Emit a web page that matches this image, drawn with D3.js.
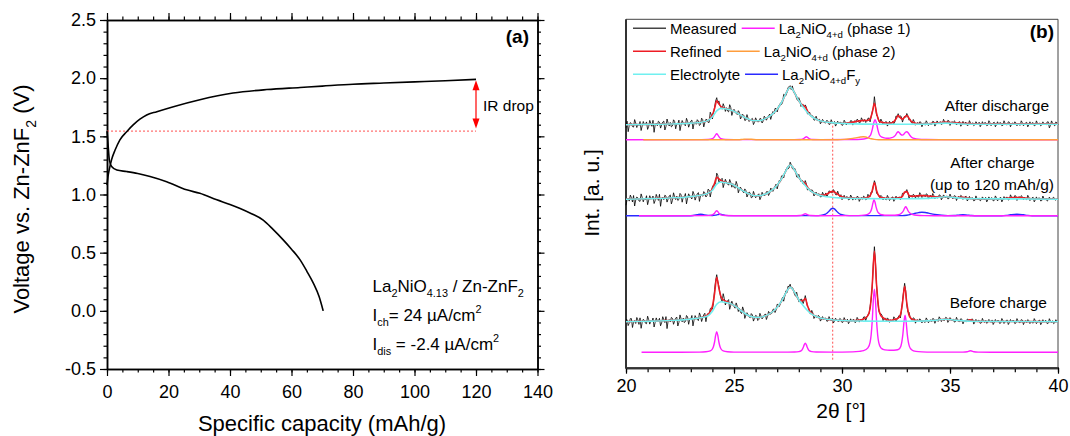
<!DOCTYPE html>
<html>
<head>
<meta charset="utf-8">
<script src="https://cdn.jsdelivr.net/npm/d3@7"></script>
<style>
  body { margin: 0; background: #fff; }
  svg { display: block; }
  text { font-family: 'Liberation Sans', Arial, sans-serif; fill: #000; }
</style>
</head>
<body>
<svg id="chart" width="1070" height="436"></svg>
<script>
// ---------- (a) galvanostatic charge / discharge ----------
const chargeCapacity = [0, 0.3, 0.7, 1.5, 2.6, 4.2, 6.4, 8.6, 10.7, 12.9, 16.2, 21.6, 30.2, 41, 52, 62.8, 70, 80, 90, 100, 110, 120];
const chargeVoltage  = [1.08, 1.15, 1.21, 1.30, 1.38, 1.47, 1.54, 1.60, 1.647, 1.684, 1.712, 1.755, 1.815, 1.872, 1.902, 1.92, 1.932, 1.948, 1.958, 1.968, 1.978, 1.99];
const dischargeCapacity = [0, 0.15, 0.4, 0.75, 1.5, 3.2, 6.4, 10, 14, 19.4, 25.9, 30.2, 35.7, 40, 43.3, 47, 50.8, 54, 57.3, 60, 62.8, 65, 67.1, 69, 70.3];
const dischargeVoltage  = [1.545, 1.5, 1.41, 1.30, 1.24, 1.21, 1.197, 1.18, 1.155, 1.11, 1.04, 1.01, 0.954, 0.915, 0.88, 0.835, 0.78, 0.70, 0.61, 0.53, 0.438, 0.34, 0.238, 0.12, 0.0];
const irDropCapacity = 120;
const irDropLevel = 1.545;
const capacityTicks = [0, 20, 40, 60, 80, 100, 120, 140];
const voltageTicks = [-0.5, 0, 0.5, 1, 1.5, 2, 2.5];

// ---------- (b) XRD patterns, 20-40 deg ----------
// measured counts: main samples every 0.1 deg from 20.0, plus the in-between samples at +0.05 deg
const thetaStart = 20, thetaStep = 0.1;
const thetaTicks = [20, 25, 30, 35, 40];

const measuredDischarge = [
  -3,-7,2.1,-1.9,5.1,-2.8,-0.8,-5.8,3.2,0.3,
  -4.7,4.3,-1.6,-7.6,1.5,3.5,-3.4,2.6,-5.3,5.7,
  -1.3,-2.2,4.9,-4.1,1,-5.9,4.2,0.3,6.4,-2.5,
  3.6,-4.3,2.9,5,-0.8,6.5,-2.2,5.4,2.3,12.5,
  5.8,17.2,27,23.8,17.1,21,13.3,13.7,20,9.3,
  15.4,11.3,14,5.7,10.4,4.2,10.1,3.2,5.5,0.1,
  6.9,2.9,6.2,1.7,8.5,4.5,8.8,5.3,13.1,16.3,
  12.8,19.7,20.2,30.4,29,37.2,39,38.8,31,25.8,
  27,18.2,20.2,19.8,10.8,12.5,9.4,4.7,8.5,3.6,
  0.9,5.3,1.9,4.5,0.2,5,0.8,-1.4,3.5,2.4,
  -0.7,4.5,-0.3,1,4.1,-0.4,4.1,5.5,1.8,6.9,
  3.3,2.2,6.4,2.8,13.1,28,9.5,3.6,5.6,0.2,
  2.7,-1.4,3.4,1.7,1,8.8,11,9,2.6,8.5,
  11.2,4.5,2.5,5.2,-0.5,2.2,2.95,-2.1,1.9,3.95,
  -1,0.2,3.4,-1.4,3.8,1,0.2,5.4,1.6,4.4,
  -0.75,3.1,3.9,-0.25,2.6,-1.55,3.3,2.2,-0.9,4.05,
  0,-1,3,0,-2,3,2,-1,4,-1,
  1.95,-2.05,2.95,1.95,-1.05,3.95,-0.05,2.95,-2.05,1.95,
  2.9,-1.1,-0.1,3.9,-1.1,1.9,-2.1,2.9,1.9,-1.1,
  3.85,-0.15,-1.15,2.85,0.85,2.8,-3.2,3.8,-0.2,2.8,-0.2
];
const measuredDischargeMid = [
  3.52,-0.95,1.08,-2.39,1.64,0.67,3.2,-1.27,0.26,2.79,
  -1.68,1.36,4.4,-0.06,-1.02,2.52,-0.44,3.6,-1.86,1.68,
  2.24,-1.18,3.4,0.98,4.56,-0.35,1.75,-1.15,3.45,0.55,
  4.65,1.28,0.43,3.6,0.35,5.15,2.1,4.85,2.3,9.9,
  11.9,23.8,21.6,19.5,15.5,18.1,17,12.85,17.15,12.85,
  13.35,10.15,12.35,8.05,9.3,4.65,6.65,4.35,6.3,2.5,
  4.4,3.05,5.95,3.6,7,6.65,10.55,9.2,10.7,16.05,
  16.75,21.45,22.3,29.7,32.1,37.85,35.15,34.4,30.9,24.4,
  24.1,19.7,17.5,17.5,11,8.9,8.5,4.6,5.5,5.75,
  2.6,3.6,1.7,3.35,0.6,2.4,3.2,0.55,0.95,2.35,
  -0.1,2.6,2.35,1.05,3.85,2.35,2.3,4.65,2.35,4.6,
  5.25,3.3,6.6,7.9,16.5,18.8,8,2,3.4,1.45,
  3.15,0.5,1.55,3.3,2.8,8,7.1,7.8,6,7.4,
  8.9,5.5,1.35,2.85,0.85,0.13,2.53,0.5,-0.5,2,
  1.6,0.3,3,0.7,2.4,3.1,0.8,3,1.5,3.83,
  1.68,1,2.83,1.18,3.03,0.38,0.75,2.15,-0.42,1.53,
  2,0,1.5,2.5,0,0.5,2,-0.5,2,0.5,
  2.45,-0.05,0.45,1.95,-0.55,1.45,-0.05,2.45,0.45,-0.05,
  1.9,1.4,-0.6,1.9,0.4,2.4,-0.1,0.4,1.9,-0.6,
  1.35,1.85,-0.15,0.85,-0.15,2.85,-0.7,1.3,-1.2,1.8
];
const refinedDischarge = [
  0,0.03,0.06,0.09,0.12,0.15,0.18,0.21,0.24,0.27,
  0.3,0.34,0.38,0.42,0.46,0.5,0.54,0.58,0.62,0.66,
  0.7,0.78,0.86,0.94,1.02,1.1,1.2,1.3,1.4,1.5,
  1.6,1.7,1.85,2,2.2,2.5,2.8,3.4,4.3,6.5,
  9.8,16.2,23.8,20.8,18.1,17,16.3,15.7,15,14.3,
  13.4,12.3,11,9.7,8.4,7.2,6.1,5.2,4.5,4.1,
  3.9,3.9,4.2,4.7,5.5,6.5,7.8,9.3,11.1,13.3,
  15.8,18.7,22.2,26.4,31,35.2,37.5,35.8,32,27.8,
  24,21.2,19.2,17.8,13.8,10.5,8.4,6.7,5.5,4.6,
  3.9,3.3,2.9,2.5,2.2,2,1.8,1.6,1.5,1.4,
  1.3,1.5,1.7,2,2.1,2.6,3.1,3.5,3.8,3.9,
  4.3,4.2,4.4,5.8,12.1,21.4,11.5,4.6,2.6,2.2,
  1.7,1.6,1.4,1.7,3,5.8,9.2,7,5.6,7.5,
  9.2,6.5,3.5,2.2,1.5,1.2,1.05,1,1,1,
  1,1.2,1.4,1.6,1.8,2,2.2,2.4,2.6,2.4,
  2.25,2.1,1.9,1.75,1.6,1.45,1.3,1.2,1.1,1.05,
  1,1,1,1,1,1,1,1,1,1,
  0.95,0.95,0.95,0.95,0.95,0.95,0.95,0.95,0.95,0.95,
  0.9,0.9,0.9,0.9,0.9,0.9,0.9,0.9,0.9,0.9,
  0.85,0.85,0.85,0.85,0.85,0.8,0.8,0.8,0.8,0.8,0.8
];

const measuredCharge = [
  -6,1,4.1,-2.8,-6.8,2.2,-1.7,5.3,-2.6,-0.5,
  -5.5,3.5,0.6,-4.3,4.8,-1.2,-7.1,2,4,-2.9,
  3.2,-4.7,6.4,-0.4,-1.3,5.8,-3,2.1,-4.7,5.4,
  1.6,7.8,-0.9,5.4,-2.2,5.2,7.6,2.2,10,2.3,
  12.3,13.8,26,16.4,19.5,11.6,19.9,15.2,19.7,12,
  12,17.8,6.4,12,7.6,10.3,2.2,7.2,1.4,7.8,
  1.4,4.3,-0.5,6.9,3.6,7.5,3.7,11.1,7.8,12.9,
  10.3,19,23.3,21.2,29.4,30.2,37,30.7,31.2,22.3,
  24.8,17.8,15.2,18.6,9.2,10.2,9.5,3.2,7.1,5.3,
  2.2,6.9,3.3,2.2,8.4,6.6,9.6,4.6,8,2.5,
  -0.5,3.9,2.4,-0.7,4.2,-0.9,0,2.9,-2.2,1.75,
  3.1,-0.6,4.9,2.5,6.8,18.5,5.8,4.4,3.8,-0.7,
  0,3.8,-1.3,1.7,-2.1,3,1.2,-0.4,5.9,6.2,
  9.6,0.9,3.95,4.9,1.15,2.4,6.55,1.6,4.5,5.4,
  0.15,3.95,5.7,0.45,1.35,4.35,-0.6,4.3,1.4,0.3,
  5.1,0.9,3.6,-1.3,2.8,3.9,-0.2,2.6,-1.8,2.8,
  1.4,-1.7,3.3,-0.7,-1.7,2.3,-0.7,-2.7,2.3,1.3,
  -1.7,3.3,-1.7,1.3,-2.7,2.6,1.8,-0.9,4.4,0.55,
  3.65,-1.3,2.65,3.55,-0.6,0.1,3.9,-1.4,1.45,-2.65,
  2.3,1.25,-1.8,3.2,-0.85,-1.9,2.1,0.05,2,-1,0
];
const measuredChargeMid = [
  -0.47,-1.92,1.63,3.68,-0.77,1.28,-2.17,1.88,0.93,3.48,
  -0.97,0.6,3.18,-1.25,1.83,4.88,0.45,-0.47,3.08,0.15,
  4.25,-1.15,2.48,3.13,-0.25,4.38,2.03,5.68,0.83,3,
  0.23,4.98,2.25,6.6,3.5,2.9,6.4,3.6,9.1,7.6,
  14.2,16.5,23.8,18.6,20.9,15.7,17,14,16.8,15.5,
  10.9,14.6,9.7,9.8,6.4,8.7,4.7,6.3,2.1,4.6,
  2.85,5.4,2.2,4.75,4.05,7.6,5.9,9.95,10.35,15.1,
  14.65,17.15,23.75,25.8,31.3,31.2,34.45,29.95,28.75,22.05,
  20.8,19,15.2,15.4,10.2,7.35,8.35,4.65,4.2,5.25,
  2.55,4.6,6.25,4.8,7.5,6.6,8.1,4.3,4.75,4.5,
  1.2,1.15,2.35,-0.25,2.15,1.55,-0.05,2.35,0.28,-0.1,
  2.25,0.15,3.2,7.2,13,15.4,4.8,1.5,2.55,1.65,
  -0.6,1.75,0.2,2.3,-0.05,1.1,2.4,0.75,5,7.6,
  6.8,2.8,1.9,4,3.8,2,4.6,3.05,2.45,4.8,
  2.55,1.3,3.55,2.9,1.35,3.85,1.35,2.85,3.35,0.7,
  2.5,0.75,3.15,1.25,0.85,2.85,1.2,2.9,0,0.1,
  1.35,-1.2,0.8,1.3,-0.7,0.8,1.8,-0.7,-0.2,1.3,
  -1.2,1.3,-0.2,1.8,-0.55,0.2,1.95,-0.25,1.98,0.6,
  3.18,1.18,0.6,2.48,1.75,-0.5,1.75,0.03,1.9,-0.67,
  -0.22,1.23,-1.3,0.68,1.13,-0.9,0.08,1.03,-0.5,0.5
];
const refinedCharge = [
  0,0.05,0.1,0.15,0.2,0.25,0.3,0.35,0.4,0.45,
  0.5,0.55,0.65,0.7,0.8,0.85,0.9,1,1.05,1.1,
  1.2,1.3,1.4,1.55,1.7,1.8,1.95,2.1,2.25,2.4,
  2.6,2.85,3.1,3.4,3.8,4.2,4.6,5.2,6,7.3,
  10.3,15.8,22,20.4,18.5,17.6,16.9,16.2,15.7,15,
  14,12.8,11.4,10,8.6,7.3,6.2,5.2,4.4,3.8,
  3.4,3.3,3.5,3.9,4.6,5.5,6.7,8.1,9.8,11.9,
  14.3,17,20.3,24.2,28.4,32.2,34.2,32.7,29.2,25.3,
  21.8,18.8,17.2,15.6,12.2,9.2,7.5,6.2,5.1,4.3,
  4.2,3.9,4.3,5.2,6.4,7.6,7.6,6.6,5,3.5,
  2.5,1.9,1.4,1.3,1.2,1.1,1,0.9,0.8,0.75,
  1.1,1.4,1.9,3.5,8.8,16.5,8.8,3.4,1.8,1.3,
  1,0.8,0.7,0.7,0.9,1,1.2,1.6,2.9,7.2,
  7.6,3.9,2.95,2.9,3.15,3.4,3.55,3.6,3.5,3.4,
  3.15,2.95,2.7,2.45,2.35,2.35,2.4,2.3,2.4,2.3,
  2.1,1.9,1.6,1.7,1.8,1.9,1.8,1.6,1.2,0.8,
  0.4,0.3,0.3,0.3,0.3,0.3,0.3,0.3,0.3,0.3,
  0.3,0.3,0.3,0.3,0.3,0.6,0.8,1.1,1.4,1.55,
  1.65,1.7,1.65,1.55,1.4,1.1,0.9,0.6,0.45,0.35,
  0.3,0.25,0.2,0.2,0.15,0.1,0.1,0.05,0,0,0
];

const measuredPristine = [
  2,-3.9,3.1,-5.8,1.2,4.2,-2.7,-6.6,2.4,-1.5,
  5.5,-2.4,-0.3,-5.3,3.8,0.8,-4.1,5,-0.9,-6.9,
  2.2,4.3,-2.6,3.5,-4.3,6.8,-0.1,-0.9,6.2,-2.6,
  2.6,-4.2,6.1,2.4,8.8,0.2,6.9,0,8.3,13,
  12.4,32,47,35.5,22.9,28,16.7,20.8,12.4,20.5,
  15.3,18.8,10.2,9.5,14.8,3.3,9,4.9,8.1,0.6,
  6.3,1.2,8.4,2.8,6.4,2.2,10.3,7.6,12.2,9.2,
  17.5,15.2,21.5,20.5,30.8,35.5,37.5,34,27.5,29.5,
  20,22.7,18.1,26.1,15.1,8.9,11.3,3.2,6.1,6.3,
  0.6,5.1,3.7,0.4,5.1,0.9,-1.3,3.5,0.4,3.3,
  -0.8,4.1,0,-2,2.9,2,-0.9,4.3,-0.4,0.9,
  4.7,1.1,7.2,15.2,34.9,75,35.9,11.1,8.1,1,
  3.5,3.8,-0.6,0.5,4.9,0.6,4.6,3.7,20.6,38.4,
  16.6,9.7,2.2,3.9,-1.5,2.1,2.9,-1.2,-0.2,3.8,
  -1.1,2,3.2,-1.6,2.6,4.9,0.1,1.3,4.4,-0.7,
  4.1,0.9,-0.4,4.4,0.2,3,-2.2,1.7,2.6,-0.2,
  2.6,-2.4,2.3,1.3,-1.7,3.3,-0.7,-1.7,2.3,-0.7,
  -2.8,2.2,1.2,-1.8,3.2,-1.8,1.2,-2.8,2.2,1.2,
  -1.9,3.1,-0.9,2.1,-2.9,1.1,2.1,-1.9,-0.9,3.1,
  -2,1,-3,2,1,-2,3,-1,-2,2,0
];
const measuredPristineMid = [
  2.03,-1.42,3.13,-0.32,-1.77,1.78,3.83,-0.62,1.43,-2.02,
  2.03,1.1,3.68,-0.75,0.83,3.38,-1.05,2.03,5.08,0.65,
  -0.25,3.35,0.48,4.63,-0.75,2.88,3.53,0.18,4.83,2.5,
  6.23,1.48,3.75,1.1,6,3.55,8.45,6.15,7,14,
  18.3,41.2,40.2,28.9,20.2,23.3,19.7,22.1,16.4,17.4,
  13.5,15.5,13.3,8.1,11.5,6.6,6.9,4,6.8,3.4,
  5.75,2.3,5.6,4.6,7.8,5.2,8.4,8.4,12.7,11.8,
  16.8,18.3,24.5,25.6,29.1,35,33.2,32.2,25.5,24.7,
  20.3,22.1,21.4,20.9,14.1,7.6,8.7,5.1,3.7,5.4,
  2.35,2.4,3.55,0.75,2.5,3.3,0.6,1.95,0.35,2.25,
  -0.35,1.55,2.5,-0.05,0.45,2.05,-0.3,2.45,2.2,1.3,
  4.9,4.5,7.5,22.6,57.9,59.8,22.5,8,6.5,2.7,
  1.1,2.6,1.95,0.2,3.2,2.6,6.3,10,29.9,30.9,
  9.5,5,1.5,3.2,0.8,0,1.85,1.3,-0.7,1.85,
  0.45,0.1,2.8,1,0.25,3,2.7,1.35,3.85,1.2,
  2.5,2.75,0,1.8,0.1,2.4,0.25,-0.35,2.2,1.4,
  2.6,-0.5,-0.12,1.33,-1.2,0.8,1.3,-0.72,0.75,1.75,
  -0.75,-0.27,1.2,-1.3,1.2,-0.3,1.7,-0.82,-0.35,1.15,
  -1.35,0.63,-0.9,1.6,-0.4,-0.9,1.1,0.6,-1.42,1.05,
  -0.45,1.55,-0.95,-0.47,1,-1.5,0.5,1,-1,0
];
const refinedPristine = [
  0,0.05,0.1,0.15,0.2,0.25,0.3,0.35,0.4,0.45,
  0.5,0.55,0.65,0.7,0.8,0.85,0.9,1,1.05,1.1,
  1.2,1.3,1.4,1.55,1.7,1.8,1.95,2.1,2.25,2.4,
  2.6,2.85,3.1,3.4,3.8,4.2,4.9,6,7.3,10,
  15.4,28,44.5,33.5,24.9,22,20.7,19.8,18.4,17.5,
  16.3,14.8,13.2,11.5,9.8,8.3,7,5.9,5.1,4.6,
  4.3,4.2,4.4,4.8,5.4,6.2,7.3,8.6,10.2,12.2,
  14.5,17.2,20.5,24.5,28.8,32.5,34.5,33,29.5,25.5,
  22,20.7,21.1,23.1,16.1,10.9,8.3,6.2,5.1,4.3,
  3.6,3.1,2.7,2.4,2.1,1.9,1.7,1.5,1.4,1.3,
  1.2,1.1,1,1,0.9,1,1.1,1.3,1.6,1.85,
  2.7,4.1,6.2,13.2,36.9,70.5,36.9,13.1,6.1,4,
  2.5,1.8,1.4,1.5,1.9,2.6,3.6,6.7,18.6,35.4,
  18.6,6.7,3.2,1.9,1.5,1.1,0.9,0.8,0.8,0.8,
  0.9,1,1.2,1.4,1.6,1.9,2.1,2.3,2.4,2.3,
  2.1,1.9,1.6,1.4,1.2,1,0.8,0.7,0.6,1.8,
  1.6,0.6,0.4,0.35,0.3,0.3,0.3,0.3,0.25,0.25,
  0.25,0.25,0.2,0.2,0.2,0.2,0.2,0.2,0.15,0.15,
  0.15,0.15,0.1,0.1,0.1,0.1,0.1,0.1,0.1,0.05,
  0.05,0.05,0.05,0.05,0,0,0,0,0,0,0
];

// electrolyte background contribution (knots)
const electrolyteTheta = [20,21,22,23,23.5,23.8,24,24.2,24.4,24.6,24.8,25,25.2,25.4,25.6,25.8,26,26.2,26.4,26.6,26.8,27,27.2,27.4,27.5,27.6,27.7,27.8,28,28.2,28.4,28.6,28.8,29,29.3,29.6,30,31,32,33,34,34.4,34.8,35.2,35.6,36,38,40];
const electrolyteDischarge = [0,0.3,0.7,1.6,2.5,4.3,8,13.8,16.3,15.9,15,13.4,11,8.4,6.1,4.5,3.9,4.2,5.5,7.8,11.1,15.8,22.2,31,35.2,37.5,35.8,32,24,17.6,12.2,8.2,5.5,3.9,2.5,1.8,1.3,0.6,0.5,0.5,0.6,1.2,1.6,1.2,0.7,0.5,0.4,0.4];
const electrolyteCharge    = [0,0.5,1.2,2.6,4.2,6,9,15,17.2,16.6,15.7,14,11.4,8.6,6.2,4.4,3.4,3.5,4.6,6.7,9.8,14.3,20.3,28.4,32.2,34.2,32.7,29.2,21.8,16.2,11.2,7.5,5.1,3.6,2.4,1.7,1.2,0.6,0.4,0.45,0.8,1.6,2.4,1.6,0.8,0.4,0.3,0];
const electrolytePristine  = [0,0.5,1.2,2.6,4.2,6,10.5,17.5,20,19.4,18.4,16.3,13.2,9.8,7,5.1,4.3,4.4,5.4,7.3,10.2,14.5,20.5,28.8,32.5,34.5,33,29.5,22,16.2,11.2,7.5,5.1,3.6,2.4,1.7,1.2,0.6,0.4,0.45,0.8,1.6,2.4,1.6,0.8,0.4,0.2,0];

// refined phase contributions, [2theta, intensity]
const phase1Discharge = [[20,0],[23.5,0.05],[23.8,0.2],[24.0,1],[24.1,3],[24.15,4.9],[24.2,6],[24.25,4.9],[24.3,3],[24.4,1],[24.6,0.2],[25,0.05],[27.8,0.05],[28.05,0.15],[28.2,0.8],[28.3,2.4],[28.35,3],[28.4,2.4],[28.5,0.8],[28.65,0.15],[29,0.05],[30.5,0.15],[30.9,0.4],[31.1,1],[31.25,2.8],[31.33,5],[31.4,10],[31.47,17],[31.53,20],[31.59,17],[31.66,10],[31.73,5],[31.85,2.5],[32.0,1.6],[32.15,1.4],[32.3,2],[32.4,3],[32.48,4.6],[32.54,6.8],[32.6,8],[32.66,6.9],[32.72,5.3],[32.8,4.6],[32.87,5.6],[32.94,7.5],[33.0,8],[33.06,7],[33.14,4.5],[33.22,2.5],[33.35,1.2],[33.55,0.5],[33.9,0.2],[34.5,0.05],[40,0]];
const phase2Discharge = [[20.8,0],[25.2,0],[25.4,0.3],[25.6,0.6],[25.8,0.4],[26.1,0],[29.8,0],[30.1,0.3],[30.3,0.7],[30.5,1.3],[30.7,2.1],[30.85,2.7],[30.98,3],[31.1,2.7],[31.22,1.8],[31.35,0.9],[31.5,0.3],[31.7,0],[40,0]];
const phase1Charge = [[20.6,0],[23.7,0.05],[23.9,0.3],[24.0,0.8],[24.1,2.5],[24.15,4.1],[24.2,5],[24.25,4.1],[24.3,2.5],[24.4,0.8],[24.6,0.15],[25,0],[27.9,0],[28.05,0.15],[28.15,0.6],[28.22,1.2],[28.3,2],[28.38,1.2],[28.45,0.6],[28.55,0.15],[28.8,0],[30.6,0.1],[30.9,0.3],[31.1,0.8],[31.25,2.2],[31.32,4],[31.38,7.5],[31.43,12.5],[31.48,16],[31.53,13.5],[31.58,8.5],[31.64,4.5],[31.72,2.3],[31.85,1],[32.1,0.45],[32.45,0.5],[32.62,1],[32.72,2],[32.79,3.3],[32.85,5.2],[32.9,7.6],[32.95,9],[33.0,7.6],[33.05,5.2],[33.11,3.3],[33.18,2],[33.28,1],[33.45,0.4],[33.8,0.1],[34.3,0],[40,0]];
const fluorideCharge = [[20,0],[22.9,0],[23.1,0.2],[23.3,0.9],[23.46,1.5],[23.6,0.9],[23.8,0.3],[24.0,0.2],[24.15,0.6],[24.25,1.1],[24.35,1.5],[24.45,1.1],[24.6,0.3],[24.9,0.05],[28.8,0.05],[29.0,0.3],[29.2,1.2],[29.3,2.5],[29.4,4.5],[29.5,6.8],[29.57,7.5],[29.65,6.8],[29.75,4.5],[29.85,2.5],[29.95,1.2],[30.15,0.3],[30.5,0.05],[32.8,0.1],[33.0,0.5],[33.2,1.3],[33.4,2.4],[33.55,3.1],[33.7,3.5],[33.85,3.2],[34.0,2.6],[34.2,1.6],[34.4,0.9],[34.6,0.4],[34.9,0.1],[35.2,0.2],[35.4,0.6],[35.6,1],[35.8,0.6],[36.0,0.2],[36.3,0],[37.4,0],[37.6,0.3],[37.8,0.9],[38.1,1.5],[38.4,0.9],[38.6,0.3],[38.8,0],[40,0]];
const phase1Pristine = [[20.72,0],[22.5,0.05],[23.4,0.2],[23.7,0.5],[23.9,1.4],[24.0,3.3],[24.05,5.8],[24.1,10.3],[24.15,16.9],[24.2,20.6],[24.25,16.9],[24.3,10.3],[24.35,5.8],[24.4,3.3],[24.5,1.4],[24.7,0.5],[25.0,0.2],[27.5,0.15],[27.8,0.3],[28.0,0.7],[28.1,1.4],[28.15,2.5],[28.2,4.5],[28.25,7.4],[28.3,9],[28.35,7.4],[28.4,4.5],[28.45,2.5],[28.5,1.4],[28.6,0.7],[28.8,0.3],[29.5,0.15],[30.5,0.4],[30.8,0.9],[31.0,1.6],[31.2,4.4],[31.3,10],[31.35,17.6],[31.4,31.5],[31.45,51.7],[31.5,63],[31.55,51.7],[31.6,31.5],[31.65,17.6],[31.7,10],[31.8,4.4],[31.9,3],[32.1,2.2],[32.3,2],[32.5,2.3],[32.62,3],[32.72,5.9],[32.77,10.4],[32.82,18.5],[32.87,30.3],[32.92,37],[32.97,30.3],[33.02,18.5],[33.07,10.4],[33.12,5.9],[33.22,2.6],[33.42,0.9],[33.7,0.4],[34.2,0.2],[35.6,0.15],[35.8,0.5],[35.9,1.3],[35.95,1.5],[36.0,1.3],[36.1,0.5],[36.3,0.15],[37,0.05],[40,0]];

const markerTheta = 29.57;

// ---------- layout ----------
const svg = d3.select('#chart');
const C = {
  black: '#000', red: '#ee1c24', cyan: '#70f0f0', magenta: '#ff1fff',
  orange: '#ff9d3c', blue: '#2a2aff', guide: '#ff5050'
};

function richText(parent, parts, size) {
  const t = parent.append('text').attr('font-size', size);
  let cur = 0;
  for (const p of parts) {
    const s = typeof p === 'string' ? { t: p } : p;
    const target = s.sub ? size * 0.3 : s.sup ? -size * 0.42 : 0;
    const ts = t.append('tspan').attr('dy', target - cur).text(s.t);
    if (s.sub || s.sup) ts.attr('font-size', size * 0.64);
    cur = target;
  }
  return t;
}

function styleAxis(g, size) {
  g.attr('font-family', null).attr('font-size', null);
  g.selectAll('.domain').attr('stroke', '#000').attr('stroke-width', 1.5);
  g.selectAll('.tick line').attr('stroke', '#000').attr('stroke-width', 1.2);
  g.selectAll('.tick text').attr('font-size', size).attr('fill', '#000');
}

// ===== panel (a) =====
const xA = d3.scaleLinear([0, 140], [107, 537.5]);
const yA = d3.scaleLinear([-0.5, 2.5], [369, 20]);
const gA = svg.append('g');
const minorCap = d3.range(0, 140.1, 5);
const minorV = d3.range(-0.5, 2.501, 0.1).map(v => +v.toFixed(1));

[[d3.axisBottom, `translate(0,${yA(-0.5)})`, xA, minorCap, capacityTicks, d => String(d), 9],
 [d3.axisTop, `translate(0,${yA(2.5)})`, xA, minorCap, capacityTicks, null, 3],
 [d3.axisLeft, `translate(${xA(0)},0)`, yA, minorV, voltageTicks, d => d.toFixed(1), 4],
 [d3.axisRight, `translate(${xA(140)},0)`, yA, minorV, voltageTicks, null, 3]
].forEach(([gen, tr, sc, minor, major, fmt, pad]) => {
  const gm = gA.append('g').attr('transform', tr)
    .call(gen(sc).tickValues(minor).tickSize(3.5).tickSizeOuter(0).tickFormat(''));
  styleAxis(gm, 18);
  const gM = gA.append('g').attr('transform', tr)
    .call(gen(sc).tickValues(major).tickSize(7).tickSizeOuter(0).tickPadding(pad).tickFormat(fmt || (() => '')));
  styleAxis(gM, 18);
});

const lineA = d3.line().x(d => xA(d[0])).y(d => yA(d[1])).curve(d3.curveMonotoneX);
gA.append('line')
  .attr('x1', xA(0)).attr('x2', xA(irDropCapacity))
  .attr('y1', yA(irDropLevel)).attr('y2', yA(irDropLevel))
  .attr('stroke', C.guide).attr('stroke-width', 1).attr('stroke-dasharray', '2,2');
gA.append('path').datum(chargeCapacity.map((c, i) => [c, chargeVoltage[i]]))
  .attr('d', lineA).attr('fill', 'none').attr('stroke', '#000').attr('stroke-width', 1.6);
gA.append('path').datum(dischargeCapacity.map((c, i) => [c, dischargeVoltage[i]]))
  .attr('d', lineA).attr('fill', 'none').attr('stroke', '#000').attr('stroke-width', 1.6);

// IR drop double arrow
const ax = xA(irDropCapacity);
const yTop = yA(chargeVoltage[chargeVoltage.length - 1]) + 1;
const yBot = yA(irDropLevel) - 2.5;
gA.append('line').attr('x1', ax).attr('x2', ax).attr('y1', yTop + 6).attr('y2', yBot - 6)
  .attr('stroke', '#ff0000').attr('stroke-width', 1.2);
gA.append('path').attr('d', `M${ax},${yTop} l-3.5,10 l7,0 Z`).attr('fill', '#ff0000');
gA.append('path').attr('d', `M${ax},${yBot} l-3.5,-10 l7,0 Z`).attr('fill', '#ff0000');
gA.append('text').attr('x', ax + 7).attr('y', 110.5).attr('font-size', 15.5).text('IR drop');

gA.append('text').attr('x', 529).attr('y', 43).attr('text-anchor', 'end')
  .attr('font-size', 19).attr('font-weight', 'bold').text('(a)');

richText(gA, ['La', { t: '2', sub: 1 }, 'NiO', { t: '4.13', sub: 1 }, ' / Zn-ZnF', { t: '2', sub: 1 }], 17)
  .attr('x', 372.5).attr('y', 292);
richText(gA, ['I', { t: 'ch', sub: 1 }, '= 24 \u00b5A/cm', { t: '2', sup: 1 }], 17)
  .attr('x', 372.5).attr('y', 320.5);
richText(gA, ['I', { t: 'dis', sub: 1 }, ' = -2.4 \u00b5A/cm', { t: '2', sup: 1 }], 17)
  .attr('x', 372.5).attr('y', 349.5);

gA.append('text').attr('x', 322).attr('y', 431).attr('text-anchor', 'middle')
  .attr('font-size', 22).text('Specific capacity (mAh/g)');
richText(gA, ['Voltage vs. Zn-ZnF', { t: '2', sub: 1 }, ' (V)'], 22)
  .attr('text-anchor', 'middle').attr('transform', 'translate(29,199) rotate(-90)');

// ===== panel (b) =====
const xB = d3.scaleLinear([20, 40], [626, 1058]);
const yB = d3.scaleLinear([0, 348.4], [367.7, 19.3]);
const gB = svg.append('g');

// frame: thin top / right, heavier left / bottom
gB.append('path').attr('d', `M${xB(20)},${yB.range()[1]} H${xB(40)} V${yB.range()[0]}`)
  .attr('fill', 'none').attr('stroke', '#444').attr('stroke-width', 1);
const gxm = gB.append('g').attr('transform', `translate(0,${yB.range()[0]})`)
  .call(d3.axisBottom(xB).tickValues(d3.range(20, 40.1, 1)).tickSize(4.5).tickSizeOuter(0).tickFormat(''));
styleAxis(gxm, 18);
const gxM = gB.append('g').attr('transform', `translate(0,${yB.range()[0]})`)
  .call(d3.axisBottom(xB).tickValues(thetaTicks).tickSize(6).tickSizeOuter(0).tickPadding(6).tickFormat(d => String(d)));
styleAxis(gxM, 18);
gB.selectAll('.domain').attr('stroke', '#333').attr('stroke-width', 2);
gB.append('line').attr('x1', xB(20)).attr('x2', xB(20)).attr('y1', yB.range()[1]).attr('y2', yB.range()[0] + 1)
  .attr('stroke', '#333').attr('stroke-width', 2);

// layout offsets of the stacked patterns (intensity units)
const stackBase = { discharge: 243, charge: 168.5, pristine: 46 };
const phaseBase = { discharge: 228, charge: 152, pristine: 15.4 };

const patterns = [
  { key: 'discharge', measured: measuredDischarge, measuredMid: measuredDischargeMid, refined: refinedDischarge, electrolyte: electrolyteDischarge,
    phases: [{ data: phase1Discharge, color: C.magenta }, { data: phase2Discharge, color: C.orange }] },
  { key: 'charge', measured: measuredCharge, measuredMid: measuredChargeMid, refined: refinedCharge, electrolyte: electrolyteCharge,
    phases: [{ data: fluorideCharge, color: C.blue }, { data: phase1Charge, color: C.magenta }] },
  { key: 'pristine', measured: measuredPristine, measuredMid: measuredPristineMid, refined: refinedPristine, electrolyte: electrolytePristine,
    phases: [{ data: phase1Pristine, color: C.magenta }] }
];

const lineRaw = d3.line().x(d => xB(d[0])).y(d => yB(d[1]));
const lineSmooth = d3.line().x(d => xB(d[0])).y(d => yB(d[1])).curve(d3.curveMonotoneX);
const onGrid = (arr, base) => arr.map((v, i) => [thetaStart + i * thetaStep, v + base]);
const interleaved = (main, mid, base) => {
  const pts = [];
  main.forEach((v, i) => {
    const t = thetaStart + i * thetaStep;
    pts.push([t, v + base]);
    if (i < mid.length) pts.push([t + thetaStep / 2, mid[i] + base]);
  });
  return pts;
};

// guide at the fluoride reflection
gB.append('line')
  .attr('x1', xB(markerTheta)).attr('x2', xB(markerTheta))
  .attr('y1', yB(8)).attr('y2', yB(244))
  .attr('stroke', C.guide).attr('stroke-width', 1).attr('stroke-dasharray', '2,2');

patterns.forEach(p => {
  const b = stackBase[p.key], pb = phaseBase[p.key];
  p.phases.forEach(ph => {
    gB.append('path').datum(ph.data.map(d => [d[0], d[1] + pb]))
      .attr('d', lineSmooth).attr('fill', 'none').attr('stroke', ph.color).attr('stroke-width', 1.4);
  });
  gB.append('path').datum(interleaved(p.measured, p.measuredMid, b))
    .attr('d', lineRaw).attr('fill', 'none').attr('stroke', C.black).attr('stroke-width', 0.8);
  gB.append('path').datum(onGrid(p.refined, b))
    .attr('d', lineSmooth).attr('fill', 'none').attr('stroke', C.red).attr('stroke-width', 1.6);
  gB.append('path').datum(electrolyteTheta.map((t, i) => [t, p.electrolyte[i] + b]))
    .attr('d', lineSmooth).attr('fill', 'none').attr('stroke', C.cyan).attr('stroke-width', 1.6);
});

// legend
const legendRows = [
  [{ parts: ['Measured'], color: '#444' }, { parts: ['La', { t: '2', sub: 1 }, 'NiO', { t: '4+d', sub: 1 }, ' (phase 1)'], color: C.magenta }],
  [{ parts: ['Refined'], color: C.red }, { parts: ['La', { t: '2', sub: 1 }, 'NiO', { t: '4+d', sub: 1 }, ' (phase 2)'], color: C.orange }],
  [{ parts: ['Electrolyte'], color: C.cyan }, { parts: ['La', { t: '2', sub: 1 }, 'NiO', { t: '4+d', sub: 1 }, 'F', { t: 'y', sub: 1 }], color: C.blue }]
];
legendRows.forEach((row, r) => {
  const y = 28.3 + r * 23;
  let x = 633;
  row.forEach(item => {
    gB.append('line').attr('x1', x).attr('x2', x + 33).attr('y1', y).attr('y2', y)
      .attr('stroke', item.color).attr('stroke-width', 1.5);
    const t = richText(gB, item.parts, 15).attr('x', x + 37).attr('y', y + 5.5);
    x = x + 37 + t.node().getComputedTextLength() + 5;
  });
});

gB.append('text').attr('x', 1054).attr('y', 37.5).attr('text-anchor', 'end')
  .attr('font-size', 19).attr('font-weight', 'bold').text('(b)');
gB.append('text').attr('x', 1049).attr('y', 111).attr('text-anchor', 'end').attr('font-size', 15.5).text('After discharge');
gB.append('text').attr('x', 992.5).attr('y', 167.5).attr('text-anchor', 'middle').attr('font-size', 15.5).text('After charge');
gB.append('text').attr('x', 992).attr('y', 190).attr('text-anchor', 'middle').attr('font-size', 15.5).text('(up to 120 mAh/g)');
gB.append('text').attr('x', 1047).attr('y', 308).attr('text-anchor', 'end').attr('font-size', 15.5).text('Before charge');

gB.append('text').attr('x', 841).attr('y', 418).attr('text-anchor', 'middle').attr('font-size', 21).text('2\u03b8 [\u00b0]');
gB.append('text').attr('text-anchor', 'middle').attr('font-size', 21)
  .attr('transform', 'translate(599,193) rotate(-90)').text('Int. [a. u.]');
</script>
</body>
</html>
